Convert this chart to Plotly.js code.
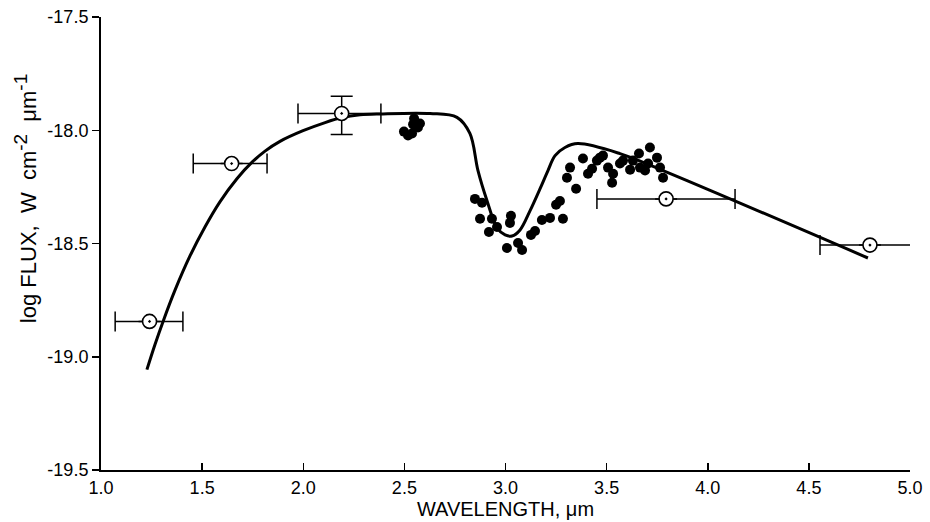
<!DOCTYPE html>
<html>
<head>
<meta charset="utf-8">
<script src="https://cdn.plot.ly/plotly-3.0.1.min.js"></script>
<style>html,body{margin:0;padding:0;background:#fff;}#chart{width:930px;height:522px;}</style>
</head>
<body>
<div id="chart"></div>
<script>
// Model curve (solid line)
const curveX = [1.227, 1.267, 1.307, 1.366, 1.440, 1.514, 1.588, 1.672, 1.747, 1.811, 1.885, 1.999, 2.108, 2.192, 2.281, 2.379, 2.627, 2.760, 2.824, 2.864, 2.909, 2.958, 2.998, 3.032, 3.072, 3.121, 3.171, 3.210, 3.245, 3.294, 3.358, 3.566, 3.779, 4.792];
const curveY = [-19.057, -18.946, -18.844, -18.706, -18.555, -18.427, -18.316, -18.214, -18.141, -18.092, -18.049, -18.002, -17.966, -17.944, -17.932, -17.928, -17.926, -17.943, -18.014, -18.178, -18.312, -18.431, -18.462, -18.467, -18.440, -18.356, -18.258, -18.178, -18.112, -18.076, -18.059, -18.103, -18.178, -18.564];

// Spectrum measurements (filled dots)
const dotX = [2.548, 2.543, 2.567, 2.498, 2.518, 2.538, 2.577,
  2.849, 2.884, 2.874, 2.933, 2.918, 2.958, 3.027, 3.022, 3.007, 3.062, 3.082, 3.126, 3.146, 3.180, 3.220, 3.250, 3.269, 3.284,
  3.304, 3.319, 3.349, 3.383, 3.408, 3.428, 3.452, 3.467, 3.482, 3.507, 3.532, 3.527, 3.566, 3.581, 3.616, 3.630, 3.665, 3.660,
  3.705, 3.714, 3.690, 3.749, 3.764, 3.779];
const dotY = [-17.948, -17.974, -17.988, -18.006, -18.023, -18.014, -17.970,
  -18.303, -18.320, -18.391, -18.391, -18.449, -18.427, -18.378, -18.409, -18.520, -18.498, -18.529, -18.462, -18.445, -18.396, -18.387, -18.329, -18.312, -18.391,
  -18.210, -18.165, -18.258, -18.125, -18.192, -18.170, -18.134, -18.121, -18.112, -18.165, -18.192, -18.232, -18.147, -18.134, -18.174, -18.134, -18.165, -18.103,
  -18.147, -18.076, -18.178, -18.121, -18.165, -18.210];

// Broadband photometry (open circles with bandwidth bars)
const photX = [1.24, 1.646, 2.19, 3.794, 4.802];
const photY = [-18.844, -18.147, -17.926, -18.303, -18.507];
const photXMinus = [0.17, 0.19, 0.216, 0.342, 0.247];
const photXPlus = [0.165, 0.175, 0.194, 0.341, 0.4];
const photYPlus = [0, 0, 0.076, 0, 0];
const photYMinus = [0, 0, 0.093, 0, 0];

// Tick labels
const xTickVals = [1.0, 1.5, 2.0, 2.5, 3.0, 3.5, 4.0, 4.5, 5.0];
const xTickText = ['1.0', '1.5', '2.0', '2.5', '3.0', '3.5', '4.0', '4.5', '5.0'];
const yTickVals = [-17.5, -18.0, -18.5, -19.0, -19.5];
const yTickText = ['-17.5', '-18.0', '-18.5', '-19.0', '-19.5'];

const fam = 'Liberation Sans, Arial, sans-serif';
const tickFont = {family: fam, size: 18, color: '#000'};
const xTitleFont = {family: fam, size: 20, color: '#000'};
const yTitleFont = {family: fam, size: 22, color: '#000'};
const yTitleText = 'log FLUX,&nbsp; W&nbsp; cm<sup><span style="font-size:19px">-2</span></sup>&nbsp; μm<sup><span style="font-size:19px">-1</span></sup>';

const traces = [
  {x: curveX, y: curveY, mode: 'lines', type: 'scatter',
   line: {color: '#000', width: 3, shape: 'spline', smoothing: 1}, hoverinfo: 'skip'},
  {x: dotX, y: dotY, mode: 'markers', type: 'scatter',
   marker: {color: '#000', size: 10}},
  {x: photX, y: photY, mode: 'markers', type: 'scatter',
   marker: {symbol: 'circle-dot', size: 14, color: '#fff', line: {color: '#000', width: 1.6}},
   error_x: {type: 'data', symmetric: false, array: photXPlus, arrayminus: photXMinus, color: '#000', thickness: 1.5, width: 10},
   error_y: {type: 'data', symmetric: false, array: photYPlus, arrayminus: photYMinus, color: '#000', thickness: 1.5, width: 11}}
];

const layout = {
  width: 930, height: 522,
  margin: {l: 101, r: 20, t: 17, b: 52},
  paper_bgcolor: '#fff', plot_bgcolor: '#fff',
  showlegend: false,
  font: tickFont,
  xaxis: {
    range: [1.0, 5.0], tickvals: xTickVals, ticktext: xTickText,
    ticks: 'inside', ticklen: 7, tickwidth: 1.5, tickcolor: '#000',
    showline: true, linecolor: '#000', linewidth: 2, showgrid: false, zeroline: false,
    tickfont: tickFont,
    title: {text: 'WAVELENGTH, μm', font: xTitleFont, standoff: 3}
  },
  yaxis: {
    range: [-19.5, -17.5], tickvals: yTickVals, ticktext: yTickText,
    ticks: 'outside', ticklen: 7, tickwidth: 1.5, tickcolor: '#000',
    showline: true, linecolor: '#000', linewidth: 2, showgrid: false, zeroline: false,
    tickfont: tickFont
  },
  annotations: [{
    text: yTitleText, textangle: -90, font: yTitleFont,
    xref: 'paper', yref: 'paper', x: -0.094, y: 0.60,
    xanchor: 'center', yanchor: 'middle', showarrow: false
  }]
};

Plotly.newPlot('chart', traces, layout, {displayModeBar: false, staticPlot: true});
</script>
</body>
</html>
